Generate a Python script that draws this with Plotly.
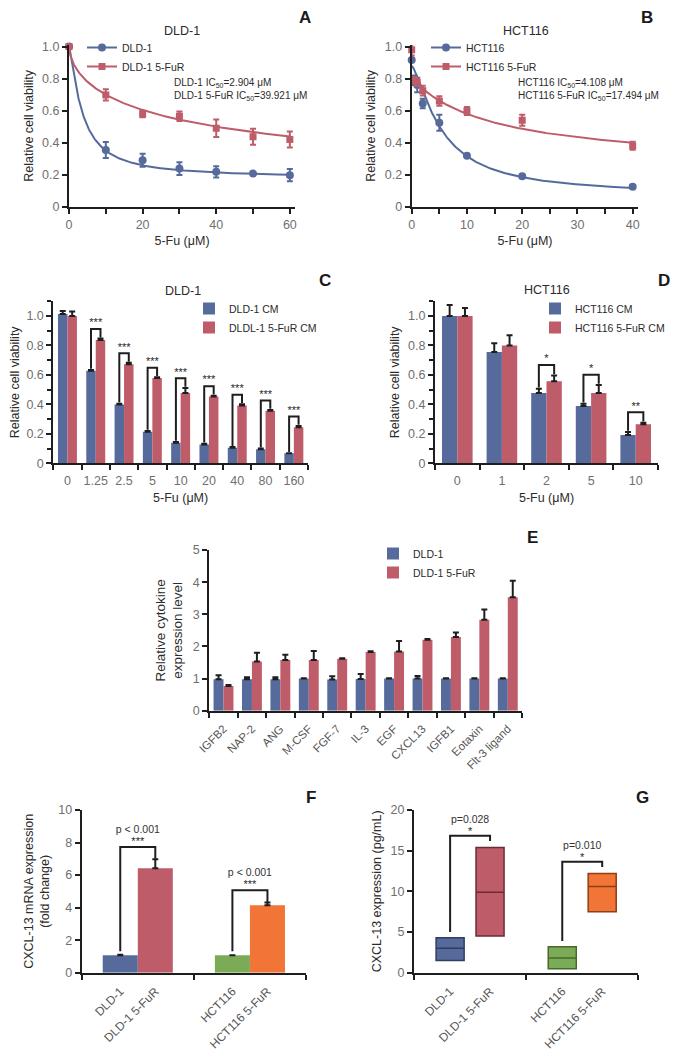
import numpy as np
import plotly.graph_objects as go

# page size; the page body keeps an 8px margin, so the figure is shifted by it
W, H = 679, 1049
PAD = 8
FW, FH = W - PAD, H - PAD
FONT = "Liberation Sans, Arial, sans-serif"
BLUE, RED, GREEN, ORANGE = "#566a9b", "#be5d69", "#7cab57", "#f07536"
BLUE_D, RED_D, GREEN_D, ORANGE_D = "#2f3d5e", "#6e2a33", "#46692d", "#8e3e14"
INK = "#1e1e1e"
GREY = "#6f6f6f"
TXT = "#2b2b2b"

# ---------------- data ----------------
# A: DLD-1 viability vs 5-Fu (uM)
a_dose = [0, 10, 20, 30, 40, 50, 60]
a_par = [1.0, 0.354, 0.29, 0.238, 0.218, 0.207, 0.197]
a_par_err = [0, 0.05, 0.04, 0.04, 0.035, 0.006, 0.038]
a_res = [1.0, 0.698, 0.579, 0.565, 0.49, 0.437, 0.42]
a_res_err = [0, 0.035, 0.02, 0.03, 0.055, 0.05, 0.05]
a_par_fit = [0.18, 1.0, 3.6, 1.31]      # bottom, top, EC, hill
a_res_fit = [0.0, 1.0, 39.921, 0.61]
a_names = ["DLD-1", "DLD-1 5-FuR"]
a_ic50 = ["2.904", "39.921"]

# B: HCT116 viability vs 5-Fu (uM)
b_dose = [0, 0.5, 1, 2, 5, 10, 20, 40]
b_par = [0.917, 0.79, 0.76, 0.645, 0.525, 0.318, 0.19, 0.125]
b_par_err = [0, 0.03, 0.045, 0.03, 0.05, 0.005, 0.01, 0.01]
b_res = [0.98, 0.79, 0.775, 0.725, 0.66, 0.598, 0.54, 0.38]
b_res_err = [0.035, 0.02, 0.02, 0.03, 0.03, 0.025, 0.035, 0.025]
b_par_fit = [0.07, 0.88, 5.5, 1.4]
b_res_fit = [0.25, 0.8, 15.0, 1.0]
b_names = ["HCT116", "HCT116 5-FuR"]
b_ic50 = ["4.108", "17.494"]

# C: DLD-1 conditioned medium
c_dose = ["0", "1.25", "2.5", "5", "10", "20", "40", "80", "160"]
c_par = [1.014, 0.629, 0.40, 0.215, 0.14, 0.128, 0.105, 0.095, 0.068]
c_par_err = [0.02, 0.005, 0.005, 0.005, 0.005, 0.005, 0.005, 0.005, 0.0]
c_res = [1.0, 0.837, 0.672, 0.579, 0.477, 0.454, 0.393, 0.357, 0.245]
c_res_err = [0.03, 0.01, 0.01, 0.005, 0.035, 0.005, 0.008, 0.005, 0.008]
c_sig = ["", "***", "***", "***", "***", "***", "***", "***", "***"]
c_names = ["DLD-1 CM", "DLDL-1 5-FuR CM"]

# D: HCT116 conditioned medium
d_dose = ["0", "1", "2", "5", "10"]
d_par = [1.0, 0.755, 0.477, 0.389, 0.193]
d_par_err = [0.075, 0.06, 0.03, 0.015, 0.02]
d_res = [1.0, 0.80, 0.557, 0.477, 0.266]
d_res_err = [0.055, 0.07, 0.04, 0.055, 0.01]
d_sig = ["", "", "*", "*", "**"]
d_names = ["HCT116 CM", "HCT116 5-FuR CM"]

# E: cytokine array
e_names = ["IGFB2", "NAP-2", "ANG", "M-CSF", "FGF-7", "IL-3", "EGF", "CXCL13",
           "IGFB1", "Eotaxin", "Flt-3 ligand"]
e_par = [0.98, 0.98, 0.98, 1.0, 0.97, 0.99, 1.0, 1.0, 1.0, 1.0, 1.0]
e_par_err = [0.12, 0.06, 0.06, 0.01, 0.1, 0.15, 0.01, 0.08, 0.01, 0.01, 0.01]
e_res = [0.77, 1.53, 1.58, 1.58, 1.62, 1.83, 1.84, 2.21, 2.29, 2.83, 3.53]
e_res_err = [0.03, 0.27, 0.16, 0.28, 0.01, 0.02, 0.33, 0.02, 0.14, 0.32, 0.51]
e_series = ["DLD-1", "DLD-1 5-FuR"]

# F: CXCL-13 mRNA (fold change)
f_lines = ["DLD-1", "HCT116"]
f_labels = ["DLD-1", "DLD-1 5-FuR", "HCT116", "HCT116 5-FuR"]
f_par = [1.07, 1.07]
f_par_err = [0.03, 0.0]
f_res = [6.42, 4.15]
f_res_err = [0.55, 0.17]
f_p = ["p < 0.001", "p < 0.001"]
f_sig = ["***", "***"]

# G: CXCL-13 protein (pg/mL), min / median / max
g_labels = ["DLD-1", "DLD-1 5-FuR", "HCT116", "HCT116 5-FuR"]
g_low = [1.5, 4.5, 0.5, 7.5]
g_med = [3.0, 9.9, 1.8, 10.6]
g_high = [4.3, 15.4, 3.2, 12.2]
g_p = ["p=0.028", "p=0.010"]
g_sig = ["*", "*"]


def logistic(x, p):
    bottom, top, ec, hill = p
    return bottom + (top - bottom) / (1 + (x / ec) ** hill)


def px_x(px):
    return (px - PAD) / FW


def px_y(py):
    return 1 - (py - PAD) / FH


def xdom(a, b):
    return [px_x(a), px_x(b)]


def ydom(top, bottom):
    return [px_y(bottom), px_y(top)]


def axis(dom, rng, title=None, standoff=6, tsize=12.5, **kw):
    d = dict(domain=dom, range=rng, showline=True, linecolor=INK, linewidth=2,
             ticks="outside", ticklen=5, tickwidth=2, tickcolor=INK,
             showgrid=False, zeroline=False, fixedrange=True, automargin=False,
             tickfont=dict(family=FONT, size=12.5, color=GREY))
    if title:
        d["title"] = dict(text=title, standoff=standoff,
                          font=dict(family=FONT, size=tsize, color=TXT))
    d.update(kw)
    return d


fig = go.Figure()
err_style = dict(type="data", color=INK, thickness=2, width=3, symmetric=False)
star_font = dict(family=FONT, size=11, color=INK)

# ---------------- A & B: dose response ----------------
for ax, dose, par, perr, res, rerr, pfit, rfit, names, leg in [
    ("", a_dose, a_par, a_par_err, a_res, a_res_err, a_par_fit, a_res_fit, a_names, "legend"),
    ("2", b_dose, b_par, b_par_err, b_res, b_res_err, b_par_fit, b_res_fit, b_names, "legend2"),
]:
    xs = np.linspace(0, max(dose), 500)
    for y, e, fitp, col, sym, size, nm in [
        (par, perr, pfit, BLUE, "circle", 8, names[0]),
        (res, rerr, rfit, RED, "square", 7, names[1]),
    ]:
        fig.add_trace(go.Scatter(x=xs, y=logistic(xs, fitp), mode="lines",
                                 line=dict(color=col, width=2), showlegend=False,
                                 hoverinfo="skip", xaxis="x" + ax, yaxis="y" + ax))
        fig.add_trace(go.Scatter(x=dose, y=y, mode="markers",
                                 marker=dict(symbol=sym, size=size, color=col),
                                 error_y=dict(type="data", array=e, color=col,
                                              thickness=2, width=3),
                                 cliponaxis=False, showlegend=False,
                                 xaxis="x" + ax, yaxis="y" + ax))
        # legend key
        fig.add_trace(go.Scatter(x=[None], y=[None], mode="lines+markers", name=nm,
                                 marker=dict(symbol=sym, size=size, color=col),
                                 line=dict(color=col, width=2), legend=leg,
                                 xaxis="x" + ax, yaxis="y" + ax))


# ---------------- C, D, E: grouped bars ----------------
def bars(ax, cats, par, perr, res, rerr, names, leg, w, sig=None, gap=0.065,
         lift=0.008):
    xs = list(range(len(cats)))
    for y, e, col, off, nm in [(par, perr, BLUE, -w, names[0]),
                               (res, rerr, RED, 0, names[1])]:
        fig.add_trace(go.Bar(x=xs, y=y, width=w, offset=off, name=nm,
                             marker=dict(color=col, line=dict(width=0)),
                             error_y=dict(err_style, array=e, arrayminus=[0] * len(e)),
                             legend=leg, xaxis="x" + ax, yaxis="y" + ax))
    if sig:
        bx, by, tx, ty, tt = [], [], [], [], []
        for i, s in enumerate(sig):
            if not s:
                continue
            top = res[i] + rerr[i]
            yb = top + gap
            bx += [i - w / 2, i - w / 2, i + w / 2, i + w / 2, None]
            by += [par[i] + perr[i] + lift, yb, yb, top + lift, None]
            tx.append(i)
            ty.append(yb)
            tt.append(s)
        fig.add_trace(go.Scatter(x=bx, y=by, mode="lines", line=dict(color=INK, width=2),
                                 showlegend=False, hoverinfo="skip",
                                 xaxis="x" + ax, yaxis="y" + ax))
        fig.add_trace(go.Scatter(x=tx, y=ty, mode="text", text=tt, textposition="top center",
                                 textfont=star_font, showlegend=False, cliponaxis=False,
                                 hoverinfo="skip", xaxis="x" + ax, yaxis="y" + ax))


C_W, D_W, E_W, F_W = 0.335, 0.343, 0.35, 0.3125
bars("3", c_dose, c_par, c_par_err, c_res, c_res_err, c_names, "legend3", C_W, c_sig)
bars("4", d_dose, d_par, d_par_err, d_res, d_res_err, d_names, "legend4", D_W, d_sig, gap=0.07)
bars("5", e_names, e_par, e_par_err, e_res, e_res_err, e_series, "legend5", E_W)

# ---------------- F: mRNA bars ----------------
fx = list(range(len(f_lines)))
fig.add_trace(go.Bar(x=fx, y=f_par, width=F_W, offset=-F_W,
                     marker=dict(color=[BLUE, GREEN], line=dict(width=0)),
                     error_y=dict(err_style, array=f_par_err, arrayminus=[0, 0]),
                     showlegend=False, xaxis="x6", yaxis="y6"))
fig.add_trace(go.Bar(x=fx, y=f_res, width=F_W, offset=0,
                     marker=dict(color=[RED, ORANGE], line=dict(width=0)),
                     error_y=dict(err_style, array=f_res_err, arrayminus=[0, 0]),
                     showlegend=False, xaxis="x6", yaxis="y6"))
bx, by, f_br = [], [], []
for i in fx:
    top = f_res[i] + f_res_err[i]
    f_br.append(top + 0.75)
    bx += [i - F_W / 2, i - F_W / 2, i + F_W / 2, i + F_W / 2, None]
    by += [f_par[i] + 0.25, top + 0.75, top + 0.75, top + 0.03, None]
fig.add_trace(go.Scatter(x=bx, y=by, mode="lines", line=dict(color=INK, width=2),
                         showlegend=False, hoverinfo="skip", xaxis="x6", yaxis="y6"))
fig.add_trace(go.Scatter(x=fx, y=[v + 0.3 for v in f_br], mode="text", text=f_sig,
                         textposition="middle center", textfont=star_font,
                         showlegend=False, cliponaxis=False, xaxis="x6", yaxis="y6"))
fig.add_trace(go.Scatter(x=fx, y=[v + 1.05 for v in f_br], mode="text", text=f_p,
                         textposition="middle center",
                         textfont=dict(family=FONT, size=10.5, color="#333"),
                         showlegend=False, cliponaxis=False, xaxis="x6", yaxis="y6"))
f_ticks = [i + s * F_W / 2 for i in fx for s in (-1, 1)]

# ---------------- G: min / median / max boxes ----------------
G_OFF, G_W = 0.178, 0.25
g_pos = [i + s * G_OFF for i in range(2) for s in (-1, 1)]
for k, (fc, lc) in enumerate([(BLUE, BLUE_D), (RED, RED_D), (GREEN, GREEN_D), (ORANGE, ORANGE_D)]):
    fig.add_trace(go.Box(x=[g_pos[k]], q1=[g_low[k]], median=[g_med[k]], q3=[g_high[k]],
                         lowerfence=[g_low[k]], upperfence=[g_high[k]], width=G_W,
                         fillcolor=fc, line=dict(color=lc, width=1.5), whiskerwidth=0,
                         boxpoints=False, showlegend=False, xaxis="x7", yaxis="y7"))
bx, by, tx, ty = [], [], [], []
for i in range(2):
    lo, hi = 2 * i, 2 * i + 1
    yb = g_high[hi] + 1.45
    bx += [g_pos[lo], g_pos[lo], g_pos[hi], g_pos[hi], None]
    by += [g_high[lo] + 0.7, yb, yb, g_high[hi] + 0.8, None]
    tx.append(i)
    ty.append(yb)
fig.add_trace(go.Scatter(x=bx, y=by, mode="lines", line=dict(color=INK, width=2),
                         showlegend=False, hoverinfo="skip", xaxis="x7", yaxis="y7"))
fig.add_trace(go.Scatter(x=tx, y=[v + 0.45 for v in ty], mode="text", text=g_sig,
                         textposition="middle center", textfont=star_font,
                         showlegend=False, cliponaxis=False, xaxis="x7", yaxis="y7"))
fig.add_trace(go.Scatter(x=tx, y=[v + 1.85 for v in ty], mode="text", text=g_p,
                         textposition="middle center",
                         textfont=dict(family=FONT, size=10.5, color="#333"),
                         showlegend=False, cliponaxis=False, xaxis="x7", yaxis="y7"))

# ---------------- axes ----------------
via_vals = [0, 0.2, 0.4, 0.6, 0.8, 1.0]
via_text = ["0", "0.2", "0.4", "0.6", "0.8", "1.0"]
minor_y = dict(dtick=0.1, ticks="outside", ticklen=4, tickwidth=2, tickcolor=INK)
hide_major = dict(ticks="outside", tickcolor="rgba(0,0,0,0)")


def boundary_minor(n):
    return dict(tickmode="array", tickvals=[k - 0.5 for k in range(n + 1)],
                ticks="outside", ticklen=5, tickwidth=2, tickcolor=INK)


fig.update_layout(
    xaxis=axis(xdom(69, 295), [0, 61.4], "5-Fu (μM)", anchor="y", tickvals=[0, 20, 40, 60],
               minor=dict(dtick=10, ticks="outside", ticklen=5, tickwidth=2, tickcolor=INK)),
    yaxis=axis(ydom(45, 206.7), [0, 1.01], "Relative cell viability", anchor="x",
               tickvals=via_vals, ticktext=via_text),
    xaxis2=axis(xdom(411.7, 638.2), [0, 41], "5-Fu (μM)", anchor="y2",
                tickvals=[0, 10, 20, 30, 40],
                minor=dict(dtick=5, ticks="outside", ticklen=5, tickwidth=2, tickcolor=INK)),
    yaxis2=axis(ydom(45, 206.7), [0, 1.01], "Relative cell viability", anchor="x2",
                tickvals=via_vals, ticktext=via_text),
    xaxis3=axis(xdom(53.3, 308), [-0.5, len(c_dose) - 0.5], "5-Fu (μM)", anchor="y3",
                tickvals=list(range(len(c_dose))), ticktext=c_dose,
                minor=boundary_minor(len(c_dose)), **hide_major),
    yaxis3=axis(ydom(301.3, 463.3), [0, 1.1], "Relative cell viability", anchor="x3",
                tickvals=via_vals, ticktext=via_text, minor=minor_y),
    xaxis4=axis(xdom(435, 658), [-0.5, len(d_dose) - 0.5], "5-Fu (μM)", anchor="y4",
                tickvals=list(range(len(d_dose))), ticktext=d_dose,
                minor=boundary_minor(len(d_dose)), **hide_major),
    yaxis4=axis(ydom(301.3, 463.3), [0, 1.1], "Relative cell viability", anchor="x4",
                tickvals=via_vals, ticktext=via_text, minor=minor_y),
    xaxis5=axis(xdom(209.3, 522), [-0.5, len(e_names) - 0.5], anchor="y5",
                tickvals=list(range(len(e_names))), ticktext=e_names, tickangle=-45,
                tickfont=dict(family=FONT, size=11.5, color="#555"),
                minor=boundary_minor(len(e_names)), **hide_major),
    yaxis5=axis(ydom(550, 710.7), [0, 5], "Relative cytokine<br>expression level",
                standoff=7, tsize=13.5, anchor="x5", tickvals=[0, 1, 2, 3, 4, 5]),
    xaxis6=axis(xdom(81.7, 306), [-0.5, 1.5], anchor="y6", tickvals=f_ticks,
                ticktext=f_labels, tickangle=-45,
                tickfont=dict(family=FONT, size=12, color="#555"),
                minor=boundary_minor(2), **hide_major),
    yaxis6=axis(ydom(810, 972.7), [0, 10], "CXCL-13 mRNA expression<br>(fold change)",
                anchor="x6", tickvals=[0, 2, 4, 6, 8, 10]),
    xaxis7=axis(xdom(414, 638.3), [-0.5, 1.5], anchor="y7", tickvals=g_pos,
                ticktext=g_labels, tickangle=-45,
                tickfont=dict(family=FONT, size=12, color="#555"),
                minor=boundary_minor(2), **hide_major),
    yaxis7=axis(ydom(810, 972.7), [0, 20], "CXCL-13 expression (pg/mL)", anchor="x7",
                tickvals=[0, 5, 10, 15, 20]),
)

# ---------------- legends ----------------
leg = dict(bgcolor="rgba(0,0,0,0)", xanchor="left", yanchor="top",
           font=dict(family=FONT, size=10.5, color=TXT), tracegroupgap=0)
fig.update_layout(
    legend=dict(leg, x=px_x(82), y=px_y(33)),
    legend2=dict(leg, x=px_x(426), y=px_y(33)),
    legend3=dict(leg, x=px_x(189), y=px_y(294)),
    legend4=dict(leg, x=px_x(535), y=px_y(294)),
    legend5=dict(leg, x=px_x(373), y=px_y(539)),
)

# ---------------- text ----------------
ann = []


def label(text, px, py, size=12.5, color=TXT, bold=False, xanchor="center", align="center"):
    ann.append(dict(text=f"<b>{text}</b>" if bold else text, x=px_x(px), y=px_y(py),
                    xref="paper", yref="paper", showarrow=False, xanchor=xanchor,
                    yanchor="middle", align=align,
                    font=dict(family=FONT, size=size, color=color)))


label("DLD-1", 182, 31)
label("HCT116", 526, 31)
label("DLD-1", 183, 291)
label("HCT116", 547, 290)
for t, px, py in [("A", 305, 18), ("B", 647, 18), ("C", 325, 280), ("D", 664, 280),
                  ("E", 532, 537), ("F", 311, 797), ("G", 642, 797)]:
    label(t, px, py, size=17, color="#1a1a1a", bold=True)
label("<br>".join(f"{n} IC<sub>50</sub>={v} μM" for n, v in zip(a_names, a_ic50)),
      172, 90, size=10, xanchor="left", align="left")
label("<br>".join(f"{n} IC<sub>50</sub>={v} μM" for n, v in zip(b_names, b_ic50)),
      516, 90, size=10, xanchor="left", align="left")

fig.update_layout(
    annotations=ann,
    width=FW, height=FH,
    margin=dict(l=0, r=0, t=0, b=0, autoexpand=False),
    plot_bgcolor="white", paper_bgcolor="white",
    showlegend=True,
    font=dict(family=FONT, color=TXT),
)

fig.write_html("out.html")
